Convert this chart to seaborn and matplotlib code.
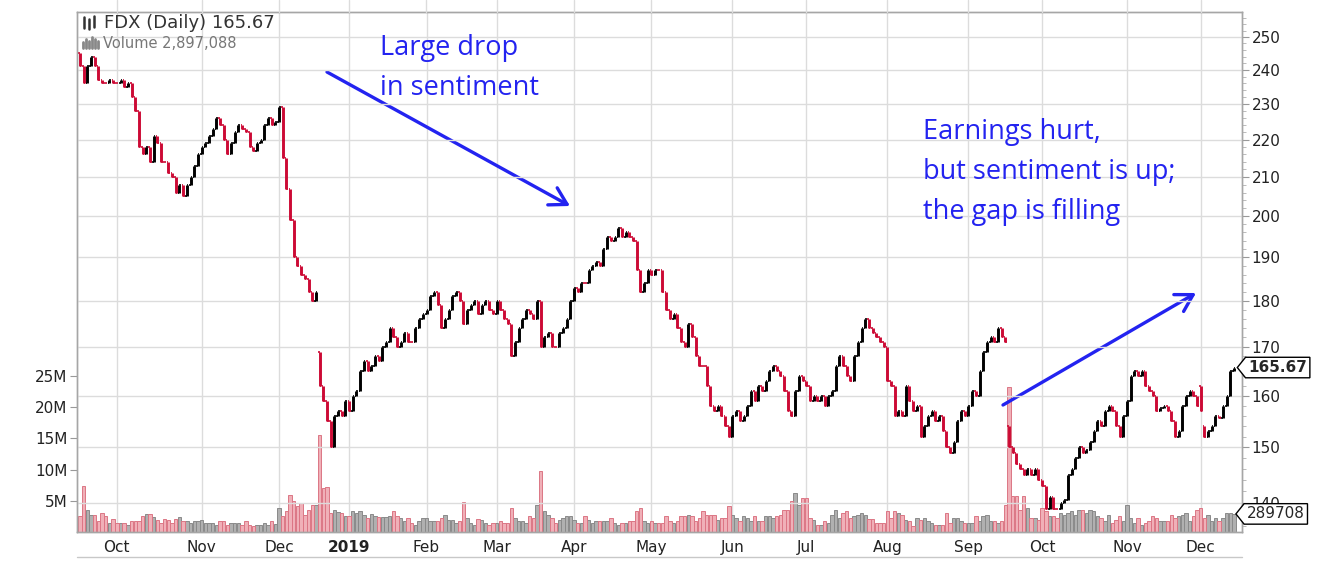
import numpy as np
import pandas as pd
import seaborn as sns
import matplotlib.pyplot as plt
import matplotlib.transforms as mtransforms
from matplotlib.lines import Line2D
from matplotlib.path import Path
from matplotlib.ticker import FixedLocator, NullFormatter, FuncFormatter

sns.set_style('white')
plt.rcParams['font.family'] = ['DejaVu Sans']

# market holidays inside the window (trading-day axis, no gaps)
holidays = ['2018-11-22', '2018-12-05', '2018-12-25', '2019-01-01', '2019-01-21',
            '2019-02-18', '2019-04-19', '2019-05-27', '2019-07-04', '2019-09-02',
            '2019-11-28']

# daily closes, one row per month
close = [
    241, 236, 241, 244, 241, 237, 236, 236, 237, 236,                                   # Sep 18
    236, 237, 235, 236, 232, 228, 218, 216, 218, 214, 221, 219, 214, 214, 211, 210,
    206, 208, 205, 208, 210, 213, 216,                                                  # Oct 18
    218, 219, 221, 223, 226, 224, 220, 216, 219, 222, 224, 223, 222, 218, 217, 219,
    220, 224, 226, 224, 225,                                                            # Nov 18
    229, 215, 207, 199, 190, 188, 186, 185, 182, 180, 182, 162, 159, 155, 150, 156,
    157, 156, 159,                                                                      # Dec 18
    157, 160, 161, 165, 167, 165, 166, 168, 167, 170, 171, 174, 172, 170, 171, 173,
    171, 171, 174, 176, 177,                                                            # Jan 19
    178, 181, 182, 179, 174, 176, 178, 181, 182, 180, 175, 178, 179, 180, 177, 179,
    180, 178, 177,                                                                      # Feb 19
    180, 178, 176, 175, 168, 171, 174, 176, 178, 177, 176, 180, 170, 172, 173, 170,
    170, 173, 174, 176, 180,                                                            # Mar 19
    183, 182, 184, 184, 187, 188, 189, 188, 192, 195, 194, 195, 197, 195, 196, 195,
    194, 187, 182, 184, 187,                                                            # Apr 19
    186, 187, 187, 182, 178, 176, 177, 174, 171, 170, 175, 172, 168, 166, 166, 162,
    158, 157, 158, 156, 154, 152,                                                       # May 19
    156, 157, 155, 156, 158, 161, 159, 162, 161, 163, 165, 166, 165, 164, 161, 157,
    156, 161, 164, 163,                                                                 # Jun 19
    162, 159, 160, 159, 160, 158, 160, 161, 166, 168, 166, 164, 163, 168, 171, 174,
    176, 174, 173, 172, 171, 170,                                                       # Jul 19
    163, 162, 156, 157, 156, 162, 159, 157, 158, 152, 154, 156, 157, 155, 156, 153,
    150, 149, 151, 155, 157, 156,                                                       # Aug 19
    158, 161, 160, 165, 169, 171, 172, 171, 174, 172, 171, 150, 149, 147, 146, 145,
    146, 145, 146, 144,                                                                 # Sep 19
    143, 139, 141, 139, 139, 140, 140.5, 145, 146, 148, 150, 149, 149.5, 151, 153, 155,
    154, 157, 158, 157, 154, 152, 156,                                                  # Oct 19
    159, 164, 165, 164, 165, 162, 161, 160, 157, 157.5, 158, 157, 155, 152, 153, 158,
    160, 161, 160, 158,                                                                 # Nov 19
    157, 152, 153, 154, 156, 155.5, 158, 160, 165, 165.67,                              # Dec 19
]

# daily volume in millions of shares
volume = [
    2.5, 7.3, 3.5, 2.7, 2.7, 1.8, 3.0, 2.5, 1.5, 2.1,
    1.4, 1.4, 1.4, 1.1, 1.8, 1.8, 1.8, 2.6, 2.9, 2.9, 2.4, 1.9, 1.5, 2.1, 1.9, 1.4,
    2.1, 2.4, 1.8, 1.8, 1.5, 1.7, 1.8,
    2.0, 1.4, 1.4, 1.4, 1.1, 1.8, 1.8, 1.1, 1.4, 1.4, 1.4, 1.1, 1.8, 1.1, 1.0, 1.1,
    1.2, 1.4, 1.2, 1.7, 1.3,
    3.9, 2.5, 3.3, 5.9, 4.9, 4.1, 4.6, 2.7, 3.5, 4.4, 4.4, 15.5, 7.0, 7.2, 3.0, 3.5,
    3.2, 3.0, 2.5,
    2.5, 3.3, 3.1, 3.3, 2.8, 2.2, 2.9, 2.5, 2.4, 2.4, 2.4, 2.5, 3.3, 2.5, 2.2, 1.8,
    2.2, 1.5, 1.1, 1.8, 2.2,
    2.2, 1.8, 1.8, 1.8, 2.2, 2.7, 1.9, 1.9, 1.4, 1.8, 4.8, 2.2, 1.4, 1.1, 2.1, 1.9,
    1.5, 1.1, 1.4,
    1.5, 1.8, 1.4, 1.4, 3.9, 2.2, 1.8, 1.8, 1.5, 2.6, 2.3, 4.4, 9.7, 3.3, 2.7, 2.3,
    1.4, 1.9, 2.3, 2.5, 2.5,
    1.9, 1.5, 1.5, 2.5, 1.9, 1.5, 1.8, 1.8, 1.8, 1.8, 2.2, 1.5, 1.2, 1.5, 1.5, 1.8,
    1.8, 3.3, 3.9, 1.8, 1.4,
    1.8, 1.4, 1.4, 1.4, 2.5, 1.8, 1.5, 1.8, 2.5, 2.5, 2.7, 2.5, 1.8, 2.2, 3.3, 2.8,
    2.7, 2.7, 2.0, 2.2, 2.2, 4.2,
    2.8, 2.2, 1.8, 2.5, 2.2, 1.8, 2.5, 1.8, 1.7, 2.5, 2.5, 2.2, 2.5, 2.7, 3.5, 3.5,
    4.9, 6.3, 4.3, 5.4,
    5.4, 2.2, 1.9, 1.1, 1.1, 1.8, 1.5, 2.7, 3.6, 2.2, 3.0, 3.3, 2.2, 2.5, 2.7, 3.0,
    2.7, 2.1, 2.1, 1.5, 1.5, 1.5,
    3.3, 2.2, 3.3, 3.0, 2.7, 1.9, 1.7, 0.9, 2.2, 2.0, 2.2, 1.8, 1.5, 1.2, 1.2, 1.2,
    3.0, 1.5, 2.2, 2.2, 1.8, 1.5,
    1.4, 1.5, 2.5, 1.8, 2.5, 2.7, 1.8, 1.8, 1.5, 1.8, 4.4, 23.2, 5.7, 5.7, 3.5, 5.7,
    3.8, 2.2, 2.2, 1.9,
    3.8, 3.4, 2.5, 2.5, 2.2, 3.0, 2.8, 3.0, 3.3, 2.8, 3.5, 3.6, 3.0, 3.6, 3.4, 2.5,
    2.2, 1.8, 2.7, 1.4, 1.9, 2.5, 1.7,
    4.4, 2.2, 1.5, 2.2, 1.2, 1.4, 1.7, 2.5, 2.2, 1.8, 1.8, 1.8, 2.7, 2.2, 2.5, 2.7,
    3.0, 1.8, 2.5, 3.5,
    3.9, 2.2, 2.7, 1.8, 2.2, 1.8, 2.2, 3.0, 3.0, 2.897,
]

# opens that gapped away from the prior close
gap_open = {'2018-09-17': 245, '2018-12-19': 169, '2019-09-18': 154,
            '2019-12-02': 162, '2019-12-03': 154}

price_ticks = list(range(140, 251, 10))
vol_ticks = [5, 10, 15, 20, 25]

dates = pd.bdate_range('2018-09-17', '2019-12-13')
dates = dates[~dates.isin(pd.to_datetime(holidays))]
df = pd.DataFrame({'date': dates, 'close': close, 'volume': volume})
df['pos'] = np.arange(len(df))
df['open'] = df['close'].shift(1)
for d, o in gap_open.items():
    df.loc[df['date'] == pd.Timestamp(d), 'open'] = o
df['high'] = df[['open', 'close']].max(axis=1)
df['low'] = df[['open', 'close']].min(axis=1)
df['up'] = df['close'] > df['close'].shift(1)

RED = '#cc0a35'
BLUE = '#2323f0'
GRID = '#dcdcdc'
W, H = 1330, 562


def fx(px):
    return px / W


def fy(py):
    return 1 - py / H


def tag_box(x0, y0, width, height, mutation_size):
    # stockcharts-style price flag: a box with a pointed left end
    pad = 0.18 * mutation_size
    x0, y0 = x0 - pad, y0 - pad
    w, h = width + 2 * pad, height + 2 * pad
    tip = 0.4 * h
    verts = [(x0, y0), (x0 + w, y0), (x0 + w, y0 + h), (x0, y0 + h),
             (x0 - tip, y0 + h / 2), (x0, y0), (x0, y0)]
    return Path(verts, closed=True)


fig = plt.figure(figsize=(13.3, 5.62), dpi=100)
ax = fig.add_axes([fx(77), fy(532), fx(1242) - fx(77), fy(12) - fy(532)])
axp = ax.twinx()

# volume, down days pink and up days grey
order = df['pos'].tolist()
sns.barplot(data=df[df['up']], x='pos', y='volume', order=order, color='#b0b0b0',
            saturation=1, edgecolor='#8a8a8a', linewidth=0.7, width=0.92,
            errorbar=None, ax=ax)
sns.barplot(data=df[~df['up']], x='pos', y='volume', order=order, color='#f0b0b8',
            saturation=1, edgecolor='#dc7685', linewidth=0.7, width=0.92,
            errorbar=None, ax=ax)
ax.set_xlabel('')
ax.set_ylabel('')
ax.set_ylim(0, 83.3)
ax.set_xlim(-0.8, 315.2)
ax.set_yticks(vol_ticks)
ax.set_yticklabels([f'{v}M' for v in vol_ticks])

# month ticks on the trading-day axis
new_month = df['date'].dt.month != df['date'].shift(1).dt.month
months = df[new_month].iloc[1:]
mlabels = ['2019' if d.month == 1 else d.strftime('%b') for d in months['date']]
ax.set_xticks(months['pos'].tolist())
ax.set_xticklabels(mlabels)
for t, lab in zip(ax.get_xticklabels(), mlabels):
    if lab == '2019':
        t.set_fontweight('bold')
        t.set_fontsize(11.5)
ax.grid(axis='x', color=GRID, lw=1)
ax.grid(axis='y', visible=False)
ax.tick_params(axis='x', length=4, color='#c8c8c8', labelsize=11, pad=2,
               labelcolor='#222222')
ax.tick_params(axis='y', length=5, color='#999999', labelsize=11, pad=2,
               labelcolor='#222222', left=True)

# OHLC bars
cols = np.where(df['up'], 'black', RED)
axp.vlines(df['pos'], df['low'], df['high'], colors=cols, lw=2.1)
axp.hlines(df['open'], df['pos'] - 0.42, df['pos'], colors=cols, lw=1.2)
axp.hlines(df['close'], df['pos'], df['pos'] + 0.42, colors=cols, lw=1.2)
axp.set_yscale('log')
axp.set_ylim(135.0, 257.9)
axp.yaxis.set_major_locator(FixedLocator(price_ticks))
axp.yaxis.set_major_formatter(FuncFormatter(lambda v, p: f'{v:.0f}'))
axp.yaxis.set_minor_locator(FixedLocator([v for v in range(136, 258, 2) if v % 10]))
axp.yaxis.set_minor_formatter(NullFormatter())
axp.grid(axis='y', which='major', color=GRID, lw=1)
axp.tick_params(axis='y', which='major', length=5, color='#999999', labelsize=11,
                pad=2, labelcolor='#222222', right=True)
axp.tick_params(axis='y', which='minor', length=3, color='#b0b0b0', right=True)

for a in (ax, axp):
    for s in a.spines.values():
        s.set_color('#a6a6a6')
        s.set_linewidth(1)

# last price and last volume flags on the right edge
last = df.iloc[-1]
axp.annotate(f"{last['close']:.2f}", xy=(1.0, last['close']),
             xycoords=('axes fraction', 'data'), xytext=(4.5, 0), textcoords='offset points',
             ha='left', va='center', fontsize=11, fontweight='bold',
             annotation_clip=False, zorder=10,
             bbox=dict(boxstyle=tag_box, fc='white', ec='black', lw=1))
vtrans = mtransforms.blended_transform_factory(axp.transAxes, ax.transData)
axp.annotate('289708', xy=(1.0, last['volume']), xycoords=vtrans,
             xytext=(3.5, 0), textcoords='offset points', ha='left', va='center',
             fontsize=11, annotation_clip=False, zorder=10,
             bbox=dict(boxstyle=tag_box, fc='white', ec='black', lw=1))

# header text with small icons
fig.text(fx(104), fy(23.5), 'FDX (Daily) 165.67', fontsize=13, color='#333333',
         va='center')
fig.text(fx(103), fy(43), 'Volume 2,897,088', fontsize=10.5, color='#777777',
         va='center')
for x0, y0, y1 in [(84, 17, 28), (89, 19, 29), (94, 16, 27)]:
    fig.add_artist(Line2D([fx(x0), fx(x0)], [fy(y0), fy(y1)], color='#333333', lw=1.8))
for x0, h in [(83, 6), (86, 9), (89, 7), (92, 11), (95, 9), (98, 7)]:
    fig.add_artist(Line2D([fx(x0), fx(x0)], [fy(48), fy(48 - h)], color='#888888',
                          lw=2))

# frame bits outside the plot area
fig.add_artist(Line2D([fx(77), fx(1242)], [fy(557), fy(557)], color='#c8c8c8', lw=1))
xdisp = ax.transData.transform(np.column_stack([months['pos'], np.zeros(len(months))]))
for xd in xdisp[:, 0]:
    fig.add_artist(Line2D([xd / W, xd / W], [fy(12), 1], color=GRID, lw=1))

# commentary
fig.text(fx(380), fy(34), 'Large drop\nin sentiment', color=BLUE, fontsize=19.5,
         family='Open Sans', va='top', linespacing=1.56)
fig.text(fx(923), fy(118), 'Earnings hurt,\nbut sentiment is up;\nthe gap is filling',
         color=BLUE, fontsize=19.5, family='Open Sans', va='top', linespacing=1.58)
arrow = dict(arrowstyle='->,head_length=0.6,head_width=0.35', color=BLUE, lw=2.4,
             mutation_scale=20, shrinkA=0, shrinkB=0)
ax.annotate('', xy=(570, H - 206), xycoords='figure pixels',
            xytext=(327, H - 72), textcoords='figure pixels', arrowprops=arrow)
ax.annotate('', xy=(1196, H - 293), xycoords='figure pixels',
            xytext=(1003, H - 405), textcoords='figure pixels', arrowprops=arrow)

fig.savefig('out.png', dpi=100)
